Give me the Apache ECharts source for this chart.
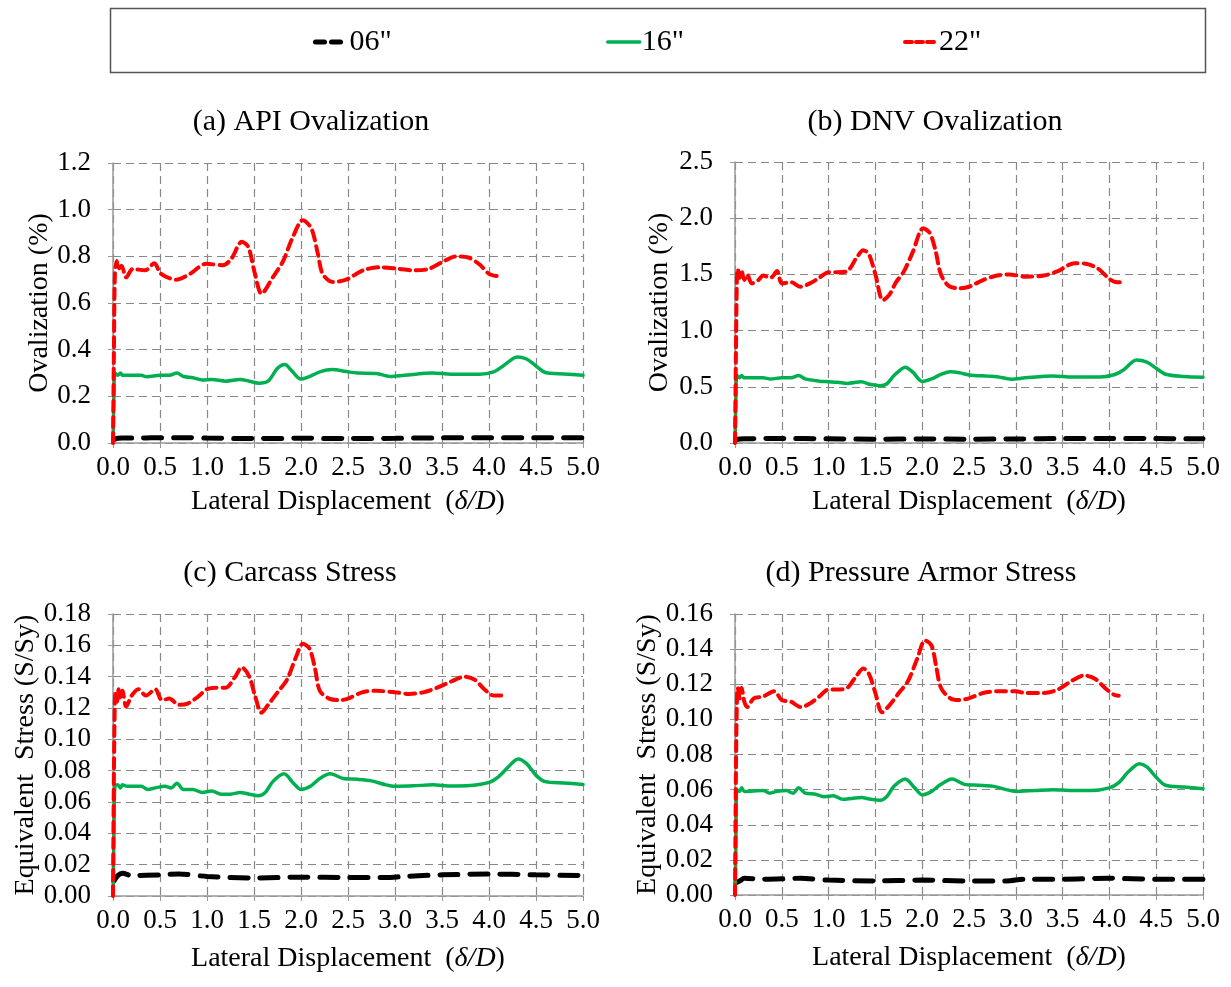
<!DOCTYPE html>
<html>
<head>
<meta charset="utf-8">
<script src="https://cdn.jsdelivr.net/npm/echarts@6/dist/echarts.min.js"></script>
<style>
  html, body { margin: 0; padding: 0; background: #fff; }
  #chart { width: 1231px; height: 987px; }
</style>
</head>
<body>
<div id="chart"></div>
<script>
// Pipe sizes shown in every panel
const sizes = ['06"', '16"', '22"'];

// Panel titles and y-axis names
const panelTitles = ['(a) API Ovalization', '(b) DNV Ovalization', '(c) Carcass Stress', '(d) Pressure Armor Stress'];
const yNames = ['Ovalization (%)', 'Ovalization (%)', 'Equivalent  Stress (S/Sy)', 'Equivalent  Stress (S/Sy)'];

// Y-axis ranges per panel: [min, max, interval, decimals]
const yRanges = [[0, 1.2, 0.2, 1], [0, 2.5, 0.5, 1], [0, 0.18, 0.02, 2], [0, 0.16, 0.02, 2]];

// (a) API ovalization, [δ/D, %]
const api06 = [[0.01,0.014],[0.05,0.02],[0.1,0.021],[0.3,0.021],[0.5,0.023],[0.8,0.023],[1.0,0.021],[1.5,0.019],[2.0,0.02],[2.5,0.019],[3.0,0.02],[3.5,0.022],[4.0,0.022],[4.5,0.022],[5.0,0.022]];
const api16 = [[0,0],[0.01,0.2],[0.02,0.3],[0.05,0.29],[0.08,0.3],[0.1,0.29],[0.3,0.29],[0.36,0.284],[0.5,0.29],[0.6,0.29],[0.68,0.3],[0.75,0.285],[0.85,0.28],[0.95,0.27],[1.05,0.272],[1.2,0.265],[1.35,0.272],[1.45,0.265],[1.55,0.256],[1.65,0.265],[1.75,0.32],[1.83,0.336],[1.9,0.31],[2.0,0.274],[2.1,0.287],[2.2,0.305],[2.33,0.315],[2.5,0.305],[2.6,0.3],[2.8,0.298],[2.95,0.285],[3.1,0.29],[3.4,0.3],[3.6,0.295],[3.9,0.295],[4.05,0.305],[4.15,0.33],[4.3,0.369],[4.4,0.36],[4.5,0.33],[4.6,0.302],[4.8,0.296],[5.0,0.29]];
const api22 = [[0,0],[0.01,0.4],[0.02,0.72],[0.04,0.78],[0.055,0.745],[0.09,0.76],[0.14,0.71],[0.21,0.746],[0.34,0.74],[0.44,0.77],[0.51,0.725],[0.67,0.70],[0.82,0.725],[0.99,0.768],[1.17,0.762],[1.26,0.79],[1.37,0.862],[1.44,0.84],[1.51,0.725],[1.58,0.64],[1.7,0.71],[1.81,0.78],[1.91,0.88],[2.02,0.955],[2.11,0.92],[2.18,0.81],[2.23,0.725],[2.34,0.69],[2.48,0.70],[2.66,0.74],[2.84,0.753],[3.01,0.748],[3.2,0.74],[3.35,0.745],[3.5,0.775],[3.65,0.80],[3.78,0.795],[3.9,0.765],[4.0,0.725],[4.09,0.715]];

// (b) DNV ovalization, [δ/D, %]
const dnv06 = [[0.01,0.028],[0.05,0.035],[0.1,0.038],[0.5,0.04],[1.0,0.038],[1.5,0.034],[2.0,0.036],[2.5,0.034],[3.0,0.036],[3.5,0.04],[4.0,0.04],[4.5,0.039],[5.0,0.038]];
const dnv16 = [[0,0],[0.01,0.4],[0.02,0.6],[0.05,0.58],[0.07,0.6],[0.1,0.58],[0.3,0.58],[0.38,0.57],[0.5,0.58],[0.6,0.58],[0.68,0.6],[0.75,0.57],[0.9,0.55],[1.0,0.545],[1.1,0.54],[1.2,0.53],[1.35,0.545],[1.45,0.52],[1.55,0.51],[1.62,0.525],[1.7,0.6],[1.82,0.675],[1.9,0.63],[2.0,0.548],[2.1,0.57],[2.2,0.61],[2.3,0.635],[2.4,0.625],[2.5,0.605],[2.7,0.595],[2.8,0.59],[2.95,0.568],[3.1,0.58],[3.4,0.597],[3.6,0.588],[3.9,0.588],[4.05,0.607],[4.15,0.65],[4.29,0.738],[4.4,0.72],[4.5,0.665],[4.6,0.612],[4.8,0.592],[5.0,0.585]];
const dnv22 = [[0,0],[0.01,0.8],[0.02,1.45],[0.03,1.55],[0.05,1.47],[0.07,1.53],[0.1,1.45],[0.13,1.5],[0.18,1.42],[0.25,1.45],[0.3,1.49],[0.38,1.47],[0.45,1.53],[0.5,1.42],[0.6,1.43],[0.7,1.39],[0.8,1.42],[0.9,1.47],[1.0,1.52],[1.1,1.52],[1.2,1.53],[1.3,1.65],[1.37,1.715],[1.43,1.68],[1.5,1.5],[1.58,1.27],[1.65,1.32],[1.72,1.43],[1.8,1.52],[1.9,1.7],[2.01,1.91],[2.08,1.87],[2.14,1.72],[2.2,1.5],[2.28,1.4],[2.39,1.376],[2.5,1.39],[2.65,1.45],[2.8,1.49],[2.93,1.5],[3.1,1.48],[3.3,1.49],[3.45,1.53],[3.63,1.6],[3.75,1.595],[3.88,1.55],[4.0,1.46],[4.08,1.43],[4.15,1.43]];

// (c) Carcass equivalent stress, [δ/D, S/Sy]
const car06 = [[0.01,0.0095],[0.05,0.013],[0.1,0.0145],[0.2,0.013],[0.5,0.0135],[0.7,0.014],[1.0,0.0125],[1.5,0.0115],[2.0,0.012],[2.5,0.0118],[2.9,0.0118],[3.1,0.0125],[3.5,0.0135],[4.0,0.014],[4.5,0.0135],[5.0,0.013]];
const car16 = [[0,0],[0.01,0.04],[0.02,0.07],[0.05,0.071],[0.08,0.069],[0.1,0.071],[0.15,0.07],[0.3,0.07],[0.37,0.068],[0.45,0.069],[0.55,0.07],[0.62,0.069],[0.68,0.072],[0.75,0.068],[0.85,0.068],[0.95,0.066],[1.05,0.067],[1.15,0.065],[1.25,0.065],[1.35,0.066],[1.45,0.065],[1.55,0.064],[1.62,0.066],[1.7,0.073],[1.82,0.078],[1.92,0.072],[2.0,0.068],[2.1,0.07],[2.2,0.075],[2.31,0.078],[2.45,0.075],[2.6,0.0745],[2.75,0.0735],[2.9,0.071],[3.0,0.07],[3.2,0.0703],[3.4,0.071],[3.6,0.0702],[3.8,0.0705],[4.0,0.0725],[4.1,0.076],[4.2,0.082],[4.31,0.0875],[4.4,0.0845],[4.5,0.077],[4.6,0.073],[4.8,0.0722],[5.0,0.0712]];
const car22 = [[0,0],[0.01,0.08],[0.02,0.125],[0.03,0.13],[0.045,0.124],[0.06,0.132],[0.08,0.126],[0.1,0.131],[0.14,0.121],[0.2,0.128],[0.27,0.132],[0.35,0.128],[0.45,0.132],[0.52,0.125],[0.6,0.126],[0.7,0.122],[0.8,0.123],[0.9,0.127],[1.0,0.132],[1.1,0.133],[1.2,0.133],[1.3,0.14],[1.37,0.146],[1.45,0.14],[1.51,0.128],[1.58,0.117],[1.65,0.122],[1.75,0.13],[1.85,0.138],[1.95,0.153],[2.02,0.161],[2.09,0.158],[2.15,0.145],[2.2,0.131],[2.3,0.126],[2.41,0.125],[2.5,0.126],[2.65,0.13],[2.8,0.131],[3.0,0.13],[3.15,0.129],[3.3,0.13],[3.45,0.133],[3.6,0.137],[3.74,0.14],[3.85,0.138],[3.95,0.132],[4.05,0.128],[4.13,0.128]];

// (d) Pressure armor equivalent stress, [δ/D, S/Sy]
const arm06 = [[0.01,0.007],[0.05,0.008],[0.1,0.0095],[0.3,0.009],[0.7,0.0095],[1.0,0.0085],[1.5,0.008],[2.0,0.0085],[2.5,0.008],[2.9,0.008],[3.1,0.009],[3.5,0.009],[4.0,0.0095],[4.5,0.009],[5.0,0.009]];
const arm16 = [[0,0],[0.01,0.03],[0.02,0.06],[0.05,0.059],[0.07,0.061],[0.1,0.059],[0.3,0.0595],[0.37,0.058],[0.45,0.059],[0.55,0.0595],[0.62,0.058],[0.68,0.061],[0.75,0.058],[0.85,0.0575],[0.95,0.056],[1.05,0.0565],[1.15,0.0545],[1.25,0.055],[1.35,0.0555],[1.45,0.0545],[1.55,0.054],[1.62,0.056],[1.7,0.062],[1.82,0.066],[1.92,0.061],[2.0,0.057],[2.1,0.059],[2.2,0.063],[2.32,0.066],[2.45,0.063],[2.6,0.0625],[2.75,0.062],[2.9,0.06],[3.0,0.059],[3.2,0.0595],[3.4,0.06],[3.6,0.0595],[3.8,0.0595],[4.0,0.061],[4.1,0.064],[4.2,0.07],[4.32,0.0748],[4.4,0.073],[4.5,0.067],[4.6,0.0625],[4.8,0.0615],[5.0,0.0605]];
const arm22 = [[0,0],[0.01,0.07],[0.02,0.11],[0.03,0.118],[0.05,0.112],[0.07,0.118],[0.1,0.11],[0.13,0.107],[0.2,0.112],[0.3,0.113],[0.42,0.116],[0.5,0.111],[0.6,0.11],[0.7,0.107],[0.8,0.109],[0.9,0.113],[1.0,0.117],[1.1,0.117],[1.2,0.118],[1.3,0.125],[1.37,0.129],[1.43,0.126],[1.5,0.115],[1.57,0.104],[1.65,0.108],[1.75,0.115],[1.85,0.122],[1.95,0.135],[2.03,0.145],[2.1,0.142],[2.15,0.13],[2.2,0.118],[2.3,0.112],[2.39,0.111],[2.5,0.112],[2.65,0.115],[2.8,0.116],[3.0,0.116],[3.1,0.115],[3.3,0.115],[3.45,0.117],[3.6,0.122],[3.73,0.125],[3.85,0.123],[3.95,0.118],[4.05,0.114],[4.1,0.1135]];

const panelData = [[api06, api16, api22], [dnv06, dnv16, dnv22], [car06, car16, car22], [arm06, arm16, arm22]];

// Plot rectangles [left, top, width, height] in px
const grids = [[113, 163, 470, 280], [735, 162, 468, 281], [113, 614, 470, 282], [735, 614, 468, 281]];
const titlePos = [[311, 122], [935, 122], [290, 573], [921, 573]];
const yNameGaps = [58, 61, 70, 73];
const xNameGaps = [45, 45, 49, 49];

const FONT = '"Liberation Serif", "Times New Roman", serif';
const seriesStyles = [
  { color: '#000000', width: 5, type: [18, 12], legendType: [9, 7] },
  { color: '#00B050', width: 3.5, type: 'solid', legendType: 'solid' },
  { color: '#FF0000', width: 4, type: [10, 6], legendType: [7, 4] }
];

const option = {
  backgroundColor: '#ffffff',
  animation: false,
  grid: grids.map(g => ({ left: g[0], top: g[1], width: g[2], height: g[3], containLabel: false })),
  xAxis: grids.map((g, i) => ({
    type: 'value', gridIndex: i, min: 0, max: 5, interval: 0.5,
    name: 'Lateral Displacement  ({it|δ/D})',
    nameLocation: 'middle', nameGap: xNameGaps[i],
    nameTextStyle: { fontFamily: FONT, fontSize: 28, color: '#000', rich: { it: { fontFamily: FONT, fontSize: 28, fontStyle: 'italic', color: '#000' } } },
    axisLine: { show: true, onZero: false, lineStyle: { color: '#999', width: 1.5 } },
    axisTick: { show: true, length: 5, lineStyle: { color: '#999' } },
    axisLabel: { margin: 11, fontFamily: FONT, fontSize: 27, color: '#000', formatter: v => v.toFixed(1) },
    splitLine: { show: true, lineStyle: { color: '#888', type: [8, 5], width: 1.2 } }
  })),
  yAxis: yRanges.map((r, i) => ({
    type: 'value', gridIndex: i, min: r[0], max: r[1], interval: r[2],
    name: yNames[i], nameLocation: 'middle', nameGap: yNameGaps[i],
    nameTextStyle: { fontFamily: FONT, fontSize: 28, color: '#000' },
    axisLine: { show: true, onZero: false, lineStyle: { color: '#999', width: 1.5 } },
    axisTick: { show: true, length: 5, lineStyle: { color: '#999' } },
    axisLabel: { margin: 22, fontFamily: FONT, fontSize: 27, color: '#000', formatter: v => v.toFixed(r[3]) },
    splitLine: { show: true, lineStyle: { color: '#888', type: [8, 5], width: 1.2 } }
  })),
  legend: sizes.map((name, k) => ({
    data: [name],
    left: [313, 606, 903][k], top: 27, padding: 0,
    itemWidth: 32, itemHeight: 14, itemGap: 4,
    textStyle: { fontFamily: FONT, fontSize: 30, color: '#000', padding: [0, 0, 0, -3] },
    itemStyle: { opacity: 0, borderWidth: 0 },
    lineStyle: { type: seriesStyles[k].legendType, width: seriesStyles[k].width, color: seriesStyles[k].color },
    selectedMode: false
  })),
  graphic: [
    { type: 'rect', shape: { x: 110.5, y: 8.5, width: 1095, height: 64 }, style: { fill: 'none', stroke: '#555', lineWidth: 1.5 } }
  ].concat(panelTitles.map((t, i) => ({
    type: 'text', x: titlePos[i][0], y: titlePos[i][1],
    style: { text: t, font: '30px ' + FONT, fill: '#000', textAlign: 'center', textVerticalAlign: 'middle' }
  }))),
  series: []
};

panelData.forEach((sets, p) => {
  sets.forEach((data, k) => {
    const st = seriesStyles[k];
    option.series.push({
      name: sizes[k], type: 'line', xAxisIndex: p, yAxisIndex: p,
      data: data, showSymbol: false, symbol: 'none', smooth: 0.3,
      z: k === 2 ? 4 : 3,
      lineStyle: { color: st.color, width: st.width, type: st.type, cap: 'round' },
      itemStyle: { color: st.color }
    });
  });
});

const chart = echarts.init(document.getElementById('chart'), null, { renderer: 'canvas' });
chart.setOption(option);
</script>
</body>
</html>
